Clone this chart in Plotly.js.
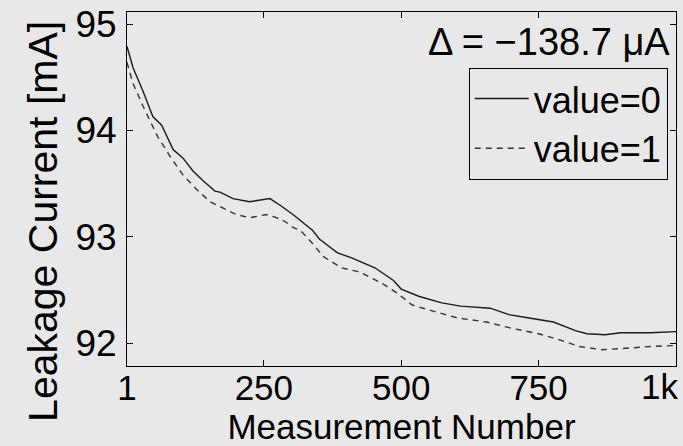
<!DOCTYPE html>
<html>
<head>
<meta charset="utf-8">
<script src="https://cdn.plot.ly/plotly-3.0.1.min.js"></script>
<style>html,body{margin:0;padding:0;background:#e8e8e8;}#chart{width:683px;height:446px;}</style>
</head>
<body>
<div id="chart"></div>
<script>
// Measurement number / leakage current (mA) for value=0
var n0 = [1, 12, 30, 48, 64, 85, 103, 121, 139, 161, 170, 194, 224, 255, 261, 279, 303, 339, 351, 384, 411, 452, 486, 500, 533, 574, 608, 662, 696, 730, 777, 817, 838, 871, 899, 953, 1000];
var v0 = [94.79, 94.59, 94.37, 94.13, 94.05, 93.82, 93.74, 93.62, 93.53, 93.43, 93.42, 93.36, 93.33, 93.36, 93.36, 93.30, 93.21, 93.06, 92.98, 92.85, 92.80, 92.71, 92.59, 92.51, 92.44, 92.38, 92.35, 92.33, 92.27, 92.24, 92.20, 92.12, 92.09, 92.08, 92.10, 92.10, 92.11];
// value=1
var n1 = [1, 12, 30, 57, 79, 103, 127, 152, 176, 200, 224, 255, 262, 279, 290, 303, 317, 340, 357, 391, 425, 466, 493, 520, 560, 601, 655, 702, 750, 790, 824, 865, 899, 953, 1000];
var v1 = [94.64, 94.44, 94.23, 93.94, 93.76, 93.58, 93.45, 93.33, 93.27, 93.21, 93.18, 93.21, 93.20, 93.17, 93.14, 93.09, 93.06, 92.93, 92.82, 92.71, 92.67, 92.56, 92.47, 92.36, 92.30, 92.24, 92.20, 92.14, 92.09, 92.03, 91.97, 91.94, 91.95, 91.97, 91.98];

var xTickVals = [1, 250, 500, 750, 1000];
var xTickText = ['1', '250', '500', '750', '1k'];
var yTickVals = [92, 93, 94, 95];
var seriesNames = ['value=0', 'value=1'];
var deltaText = 'Δ = −138.7 μA';

var FONT = 'Liberation Sans, Arial, sans-serif';

var traces = [
  {x: n0, y: v0, name: seriesNames[0], type: 'scatter', mode: 'lines',
   line: {color: '#1a1a1a', width: 1.4}},
  {x: n1, y: v1, name: seriesNames[1], type: 'scatter', mode: 'lines',
   line: {color: '#333333', width: 1.4, dash: '6px,5px'}}
];

// the last x tick label sits flush against the right edge (right-aligned to its tick)
var lastIdx = xTickVals.length - 1;
var axisTickText = xTickText.map(function (t, i) { return i === lastIdx ? '' : t; });

var axisCommon = {
  showgrid: false, zeroline: false, showline: true, linecolor: '#000', linewidth: 1,
  mirror: 'ticks', ticks: 'inside', ticklen: 6, tickwidth: 1, tickcolor: '#000',
  tickfont: {family: FONT, size: 37, color: '#000'}, tickangle: 0,
  ticklabeloverflow: 'allow'
};

var layout = {
  width: 683, height: 446,
  margin: {l: 127, r: 7, t: 12, b: 80},
  paper_bgcolor: '#e8e8e8', plot_bgcolor: '#e8e8e8',
  font: {family: FONT, color: '#000'},
  xaxis: Object.assign({}, axisCommon, {
    range: [1, 1000], tickmode: 'array', tickvals: xTickVals, ticktext: axisTickText,
    tickfont: {family: FONT, size: 35, color: '#000'},
    automargin: false, ticklabelstandoff: -9,
    title: {text: 'Measurement Number', font: {family: FONT, size: 35, color: '#000'}, standoff: 6}
  }),
  yaxis: Object.assign({}, axisCommon, {
    range: [91.787, 95.113], tickmode: 'array', tickvals: yTickVals,
    automargin: false, ticklabelstandoff: 2
  }),
  showlegend: true,
  legend: {
    x: 0.985, xanchor: 'right', y: 0.843, yanchor: 'top',
    bordercolor: '#000', borderwidth: 1, bgcolor: 'rgba(0,0,0,0)',
    itemwidth: 54,
    font: {family: FONT, size: 36, color: '#000'}
  },
  annotations: [
    {text: xTickText[lastIdx], xref: 'x', yref: 'paper', x: xTickVals[lastIdx], y: -0.0593,
     xanchor: 'right', yanchor: 'middle', xshift: 4, showarrow: false,
     font: {family: FONT, size: 35, color: '#000'}},
    {text: deltaText, xref: 'paper', yref: 'paper', x: 0.993, y: 0.915,
     xanchor: 'right', yanchor: 'middle', showarrow: false,
     font: {family: FONT, size: 38, color: '#000'}},
    {text: 'Leakage Current [mA]', xref: 'paper', yref: 'paper', x: -0.153, y: 0.407,
     xanchor: 'center', yanchor: 'middle', textangle: -90, showarrow: false,
     font: {family: FONT, size: 41, color: '#000'}}
  ]
};

Plotly.newPlot('chart', traces, layout, {displayModeBar: false, staticPlot: true});
</script>
</body>
</html>
